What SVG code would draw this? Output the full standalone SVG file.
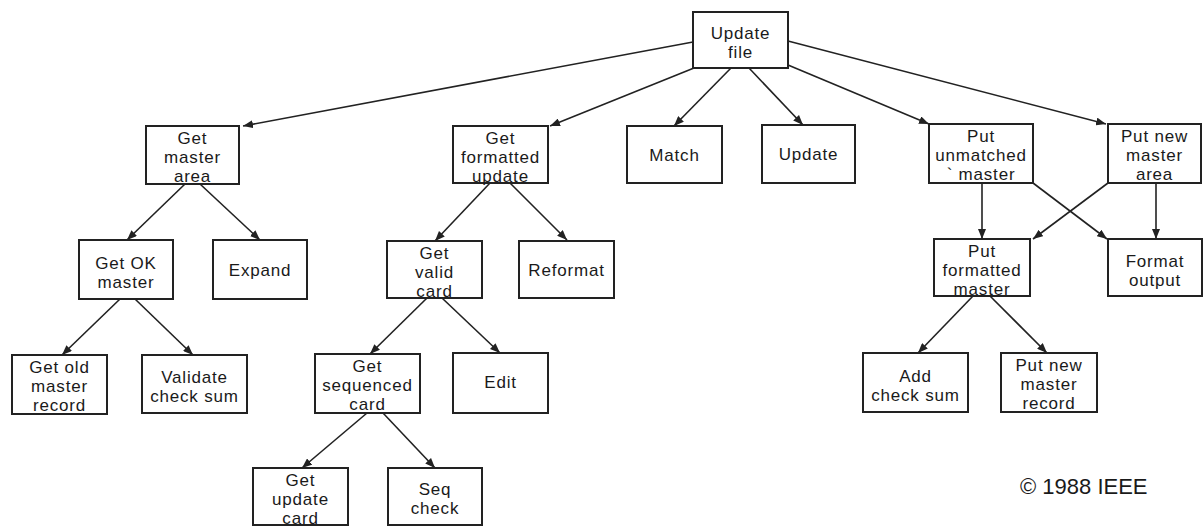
<svg xmlns="http://www.w3.org/2000/svg" width="1204" height="527" viewBox="0 0 1204 527">
<style>
.box{fill:#fff;stroke:#222;stroke-width:2}
.t{font-family:"Liberation Sans",Arial,sans-serif;font-size:17px;letter-spacing:0.8px;fill:#1a1a1a;text-anchor:middle}
.c{stroke:#222;stroke-width:1.6;fill:none;marker-end:url(#ah)}
</style>
<defs>
<marker id="ah" markerUnits="userSpaceOnUse" markerWidth="11" markerHeight="8" refX="10" refY="4" orient="auto">
<path d="M0,0 L10,4 L0,8 z" fill="#222"/>
</marker>
</defs>
<rect width="1204" height="527" fill="#fff"/>
<g id="connectors">
<path class="c" d="M693,42 L243,126"/>
<path class="c" d="M694,68 L550,126"/>
<path class="c" d="M731,68 L674,126"/>
<path class="c" d="M749,68 L803,125"/>
<path class="c" d="M788,65 L929,124"/>
<path class="c" d="M788,41 L1106,124"/>
<path class="c" d="M185,184 L127,240"/>
<path class="c" d="M200,184 L260,240"/>
<path class="c" d="M490,183 L435,241"/>
<path class="c" d="M510,183 L567,240"/>
<path class="c" d="M982,183 L982,239"/>
<path class="c" d="M1033,183 L1107,239"/>
<path class="c" d="M1108,183 L1033,239"/>
<path class="c" d="M1156,183 L1156,239"/>
<path class="c" d="M120,299 L62,355"/>
<path class="c" d="M135,299 L193,355"/>
<path class="c" d="M427,298 L370,354"/>
<path class="c" d="M442,298 L500,353"/>
<path class="c" d="M367,413 L302,468"/>
<path class="c" d="M383,413 L435,468"/>
<path class="c" d="M973,296 L918,353"/>
<path class="c" d="M990,296 L1047,353"/>
</g>
<g id="update-file"><rect class="box" x="693" y="12" width="95" height="56"/><text class="t" x="740.5" y="39">Update</text><text class="t" x="740.5" y="58">file</text></g>
<g id="get-master-area"><rect class="box" x="146" y="126" width="93" height="58"/><text class="t" x="192.5" y="143.5">Get</text><text class="t" x="192.5" y="162.5">master</text><text class="t" x="192.5" y="181.5">area</text></g>
<g id="get-formatted-update"><rect class="box" x="453" y="126" width="95" height="57"/><text class="t" x="500.5" y="143.5">Get</text><text class="t" x="500.5" y="162.5">formatted</text><text class="t" x="500.5" y="181.5">update</text></g>
<g id="match"><rect class="box" x="627" y="126" width="95" height="57"/><text class="t" x="674.5" y="160.5">Match</text></g>
<g id="update"><rect class="box" x="762" y="125" width="93" height="58"/><text class="t" x="808.5" y="160">Update</text></g>
<g id="put-unmatched-master"><rect class="box" x="929" y="124" width="104" height="59"/><text class="t" x="981" y="141.5">Put</text><text class="t" x="981" y="160.5">unmatched</text><text class="t" x="981" y="179.5">` master</text></g>
<g id="put-new-master-area"><rect class="box" x="1108" y="124" width="93" height="59"/><text class="t" x="1154.5" y="141.5">Put new</text><text class="t" x="1154.5" y="160.5">master</text><text class="t" x="1154.5" y="179.5">area</text></g>
<g id="get-ok-master"><rect class="box" x="79" y="240" width="94" height="59"/><text class="t" x="126" y="268.5">Get OK</text><text class="t" x="126" y="287.5">master</text></g>
<g id="expand"><rect class="box" x="213" y="240" width="94" height="59"/><text class="t" x="260" y="275.5">Expand</text></g>
<g id="get-valid-card"><rect class="box" x="387" y="241" width="95" height="57"/><text class="t" x="434.5" y="258.5">Get</text><text class="t" x="434.5" y="277.5">valid</text><text class="t" x="434.5" y="296.5">card</text></g>
<g id="reformat"><rect class="box" x="519" y="241" width="95" height="57"/><text class="t" x="566.5" y="275.5">Reformat</text></g>
<g id="put-formatted-master"><rect class="box" x="934" y="239" width="96" height="57"/><text class="t" x="982" y="256.5">Put</text><text class="t" x="982" y="275.5">formatted</text><text class="t" x="982" y="294.5">master</text></g>
<g id="format-output"><rect class="box" x="1108" y="239" width="94" height="57"/><text class="t" x="1155" y="266.5">Format</text><text class="t" x="1155" y="285.5">output</text></g>
<g id="get-old-master-record"><rect class="box" x="12" y="355" width="95" height="59"/><text class="t" x="59.5" y="372.5">Get old</text><text class="t" x="59.5" y="391.5">master</text><text class="t" x="59.5" y="410.5">record</text></g>
<g id="validate-check-sum"><rect class="box" x="142" y="355" width="105" height="58"/><text class="t" x="194.5" y="383">Validate</text><text class="t" x="194.5" y="402">check sum</text></g>
<g id="get-sequenced-card"><rect class="box" x="315" y="354" width="105" height="59"/><text class="t" x="367.5" y="371.5">Get</text><text class="t" x="367.5" y="390.5">sequenced</text><text class="t" x="367.5" y="409.5">card</text></g>
<g id="edit"><rect class="box" x="453" y="353" width="95" height="60"/><text class="t" x="500.5" y="388">Edit</text></g>
<g id="add-check-sum"><rect class="box" x="863" y="353" width="105" height="59"/><text class="t" x="915.5" y="382">Add</text><text class="t" x="915.5" y="401">check sum</text></g>
<g id="put-new-master-record"><rect class="box" x="1001" y="353" width="96" height="59"/><text class="t" x="1049" y="370.5">Put new</text><text class="t" x="1049" y="389.5">master</text><text class="t" x="1049" y="408.5">record</text></g>
<g id="get-update-card"><rect class="box" x="253" y="468" width="95" height="57"/><text class="t" x="300.5" y="485.5">Get</text><text class="t" x="300.5" y="504.5">update</text><text class="t" x="300.5" y="523.5">card</text></g>
<g id="seq-check"><rect class="box" x="388" y="468" width="94" height="57"/><text class="t" x="435" y="495">Seq</text><text class="t" x="435" y="514">check</text></g>
<text x="1020" y="494" style="font-family:'Liberation Sans',Arial,sans-serif;font-size:22px;fill:#1a1a1a">© 1988 IEEE</text>
</svg>
